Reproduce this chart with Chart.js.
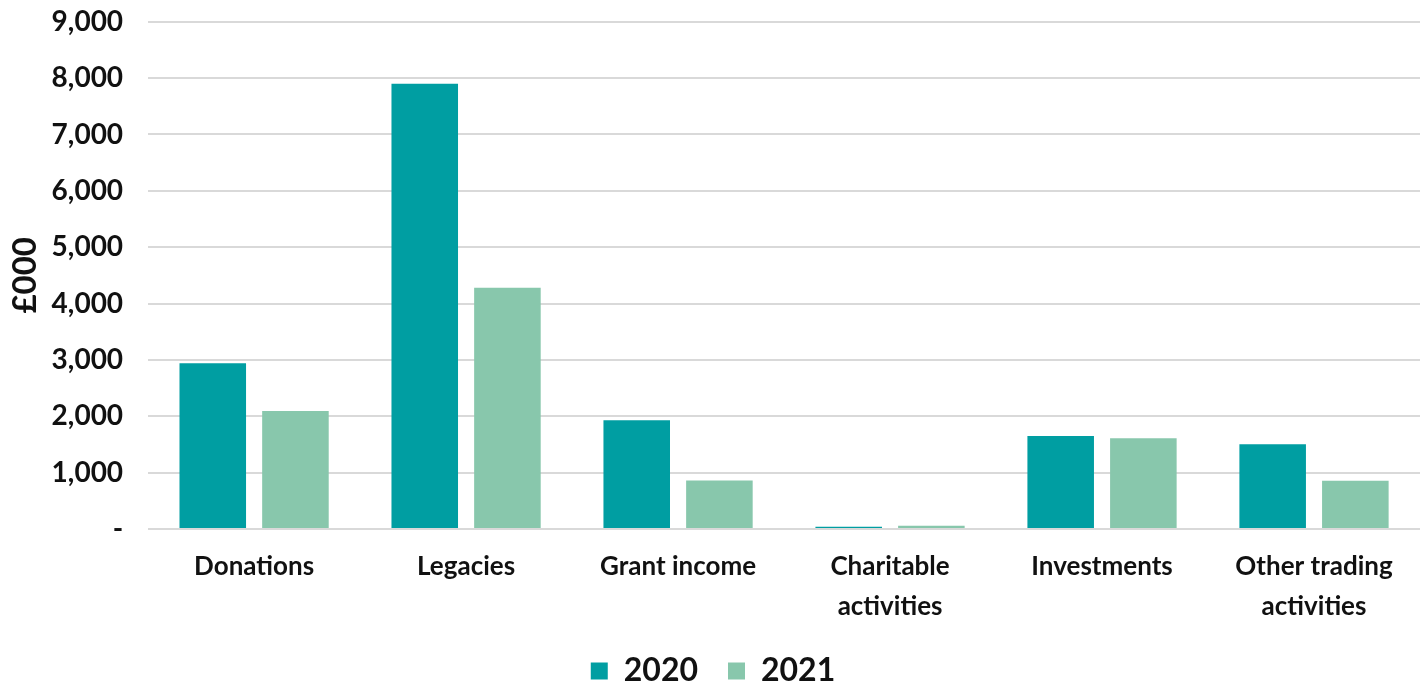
<!DOCTYPE html>
<html>
<head>
<meta charset="utf-8">
<script src="https://cdn.jsdelivr.net/npm/chart.js@4"></script>
<style>
  html, body { margin: 0; padding: 0; background: #fff; overflow: hidden; height: 691px; }
  #wrap { width: 1426px; height: 717px; position: relative; top: -20px; }
</style>
</head>
<body>
<div id="wrap"><canvas id="incomeChart"></canvas></div>
<script>
// categories and values (£000)
const categories = ['Donations', 'Legacies', 'Grant income', ['Charitable', 'activities'], 'Investments', ['Other trading', 'activities']];
const values2020 = [2940, 7900, 1930, 40, 1650, 1500];
const values2021 = [2090, 4280, 860, 55, 1610, 855];
const yTicks = [0, 1000, 2000, 3000, 4000, 5000, 6000, 7000, 8000, 9000];

const fontFamily = 'Lato, "Open Sans", sans-serif';

const ctx = document.getElementById('incomeChart').getContext('2d');
new Chart(ctx, {
    type: 'bar',
    data: {
        labels: categories,
        datasets: [
            { label: '2020', data: values2020, backgroundColor: '#009EA2', categoryPercentage: 0.78, barPercentage: 0.805 },
            { label: '2021', data: values2021, backgroundColor: '#88C7AC', categoryPercentage: 0.78, barPercentage: 0.805 }
        ]
    },
    options: {
        responsive: true,
        maintainAspectRatio: false,
        animation: false,
        layout: { padding: { left: 6, right: 6, top: 0, bottom: 0 } },
        plugins: {
            legend: {
                position: 'bottom',
                labels: {
                    color: '#111',
                    font: { family: fontFamily, size: 32, weight: 'bold' },
                    boxWidth: 17,
                    boxHeight: 17,
                    padding: 30
                }
            },
            tooltip: { enabled: false }
        },
        scales: {
            x: {
                grid: { display: false },
                border: { display: false },
                ticks: {
                    color: '#111',
                    font: { family: fontFamily, size: 26, weight: 'bold', lineHeight: 1.56 },
                    maxRotation: 0,
                    padding: 9
                },
                afterFit: (axis) => { axis.height -= 11; }
            },
            y: {
                min: 0,
                max: 9000,
                afterBuildTicks: (axis) => { axis.ticks = yTicks.map(v => ({ value: v })); },
                afterFit: (axis) => { axis.width -= 25; },
                grid: { color: '#d9d9d9', lineWidth: 2, drawTicks: false },
                border: { display: false },
                ticks: {
                    color: '#111',
                    font: { family: fontFamily, size: 28, weight: 'bold' },
                    padding: 25,
                    callback: (v) => v === 0 ? '-' : v.toLocaleString('en-GB')
                },
                title: {
                    display: true,
                    text: '£000',
                    color: '#111',
                    font: { family: fontFamily, size: 33, weight: 'bold' },
                    padding: { top: 0, bottom: 6 }
                }
            }
        }
    }
});
</script>
</body>
</html>
